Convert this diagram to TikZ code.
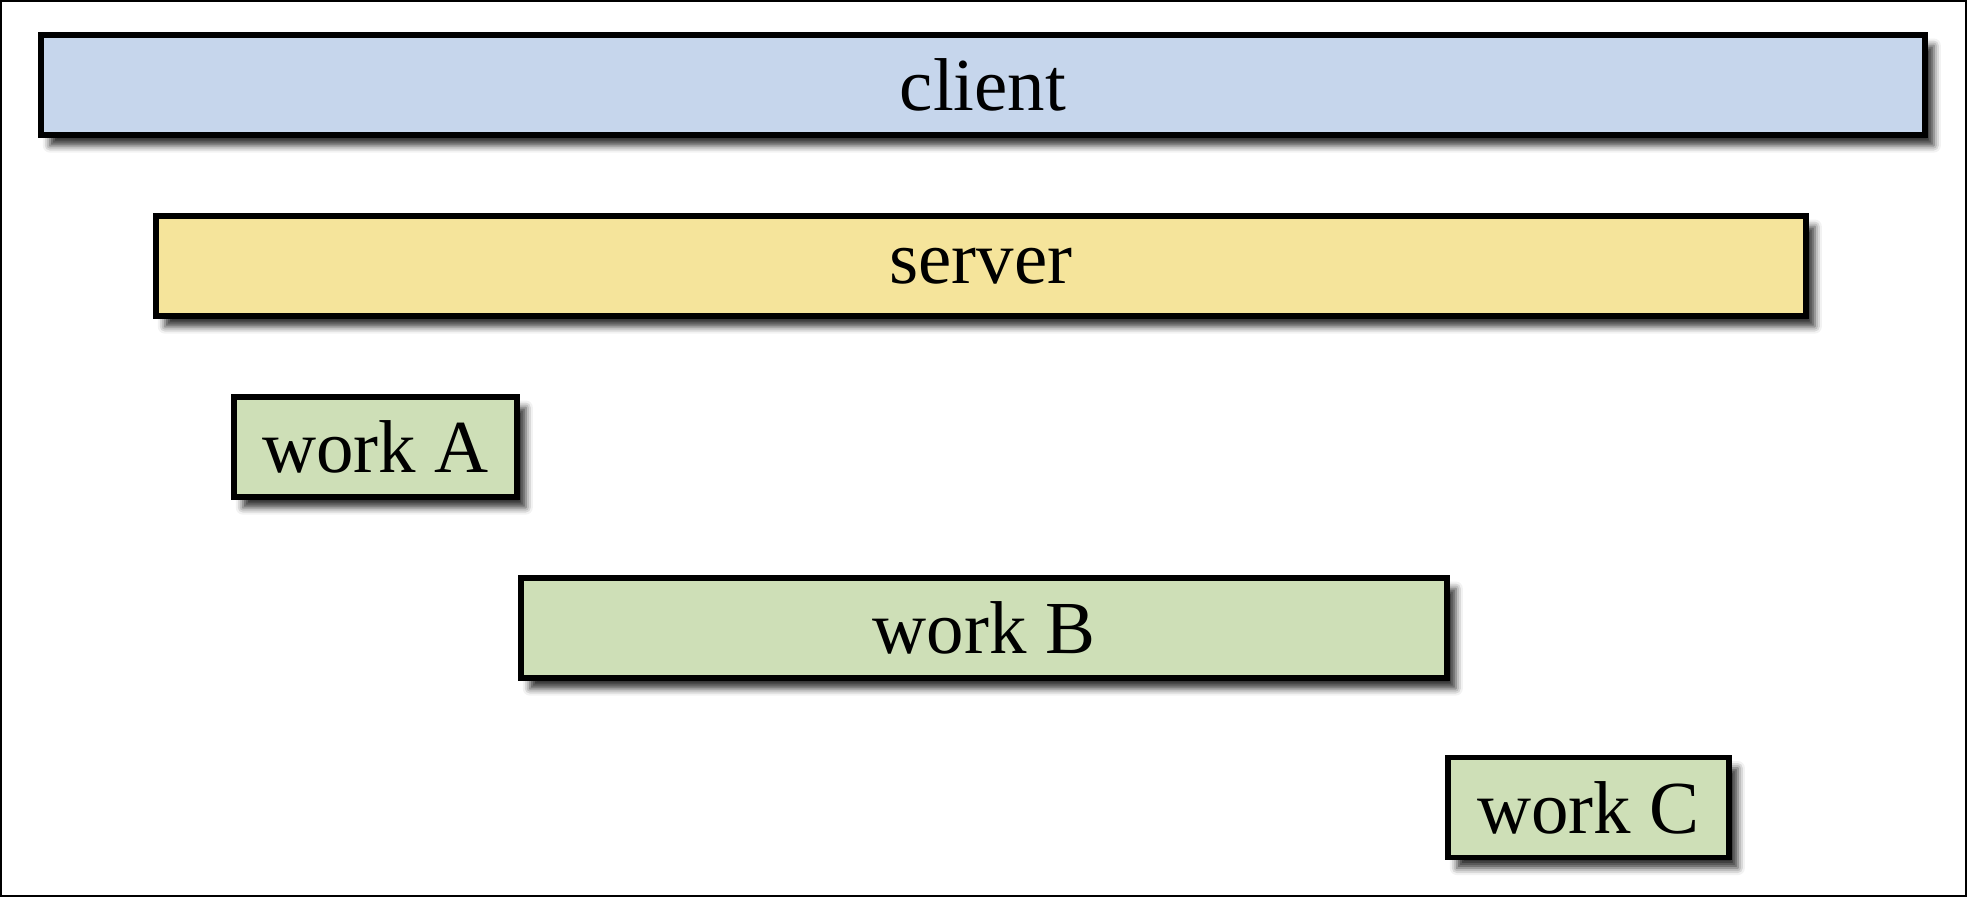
\documentclass[tikz,border=0pt]{standalone}
\usepackage{fontspec}
\setmainfont{Liberation Serif}
\usetikzlibrary{shadows.blur}

\definecolor{clientblue}{HTML}{C6D6EC}
\definecolor{serveryellow}{HTML}{F5E49B}
\definecolor{workgreen}{HTML}{CEDFB7}

\begin{document}
\begin{tikzpicture}[
  bar/.style={draw=black, line width=1.6pt, minimum height=1cm, inner sep=0pt,
    font=\fontsize{21.3}{25}\selectfont,
    blur shadow={shadow xshift=2.5pt, shadow yshift=-3pt, shadow blur radius=2pt, shadow opacity=80}},
  clientbar/.style={bar, fill=clientblue},
  serverbar/.style={bar, fill=serveryellow},
  workbar/.style={bar, fill=workgreen}
]

\useasboundingbox (0,0) rectangle (19.67,8.97);
\draw[line width=0.5pt] (0.01,0.01) rectangle (19.66,8.96);

% Row 1

\node[clientbar, minimum width=18.84cm] (client) at (9.83,8.12) {client};

% Row 2

\node[serverbar, minimum width=16.50cm] (server) at (9.81,6.31) {server};

% Rows 3 to 5

\node[workbar, minimum width=2.83cm] (workA) at (3.755,4.50) {work A};
\node[workbar, minimum width=9.26cm] (workB) at (9.84,2.69) {work B};
\node[workbar, minimum width=2.81cm] (workC) at (15.885,0.895) {work C};

\end{tikzpicture}
\end{document}
